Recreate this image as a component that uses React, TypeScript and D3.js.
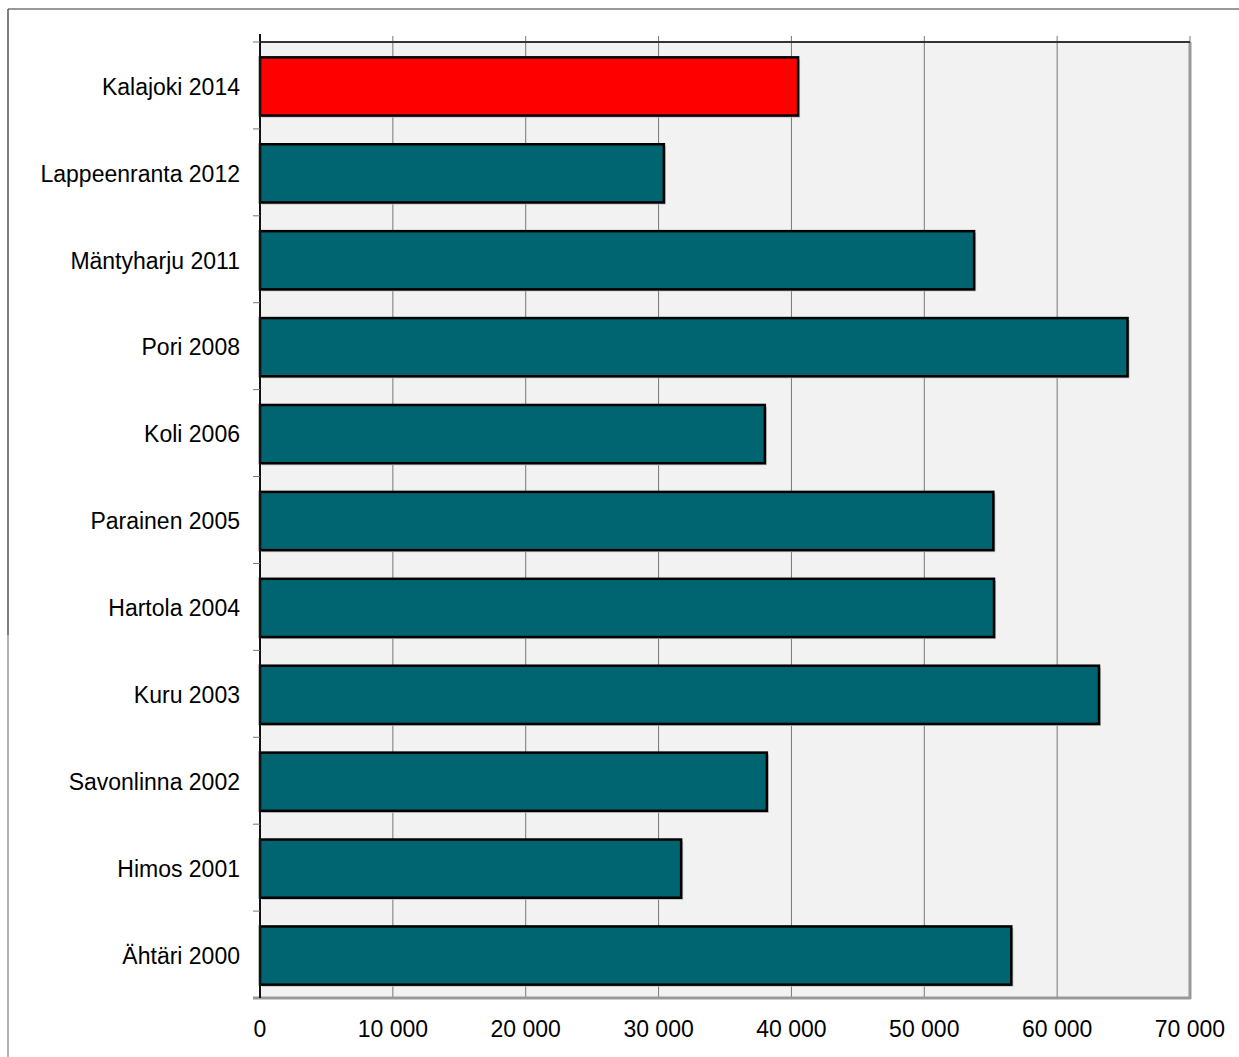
import React from "react";
import * as d3 from "d3";

const categories = [
  "Kalajoki 2014",
  "Lappeenranta 2012",
  "Mäntyharju 2011",
  "Pori 2008",
  "Koli 2006",
  "Parainen 2005",
  "Hartola 2004",
  "Kuru 2003",
  "Savonlinna 2002",
  "Himos 2001",
  "Ähtäri 2000",
];
const values = [40500, 30400, 53750, 65300, 38000, 55200, 55250, 63150, 38150, 31700, 56550];
const highlight = ["Kalajoki 2014"];
const ticks = [0, 10000, 20000, 30000, 40000, 50000, 60000, 70000];

const W = 1239;
const H = 1057;
const left = 260;
const right = 1190;
const top = 42;
const bottom = 998;

export default function App() {
  const x = d3.scaleLinear().domain([0, 70000]).range([left, right]);
  const y = d3.scaleBand().domain(categories).range([top + 1, bottom + 1]).paddingInner(0.33).paddingOuter(0.165);
  const band = (bottom - top) / categories.length;
  const fmt = (v: number) => (v === 0 ? "0" : d3.format(",")(v).replace(/,/g, " "));
  const font = "'Liberation Sans', Arial, sans-serif";
  return (
    <svg width={W} height={H} style={{ position: "absolute", left: 0, top: 0 }}>
      <rect x={0} y={0} width={W} height={H} fill="#fff" />
      {/* outer frame */}
      <line x1={8} x2={W} y1={9} y2={9} stroke="#777" strokeWidth={1.5} />
      <line x1={8} x2={8} y1={9} y2={635} stroke="#555" strokeWidth={1.5} />
      <line x1={8} x2={8} y1={635} y2={H} stroke="#999" strokeWidth={1.5} />
      {/* plot bg */}
      <rect x={left} y={top} width={right - left} height={bottom - top} fill="#f2f2f2" />
      {/* gridlines */}
      {ticks.slice(1, -1).map((t) => (
        <line key={t} x1={x(t)} x2={x(t)} y1={top - 6} y2={bottom} stroke="#777" strokeWidth={1} />
      ))}
      <line x1={right} x2={right} y1={top - 6} y2={top} stroke="#777" strokeWidth={1} />
      <line x1={right} x2={right} y1={top} y2={bottom + 1} stroke="#999" strokeWidth={3} />
      <line x1={left - 7} x2={right + 1} y1={bottom} y2={bottom} stroke="#999" strokeWidth={3} />
      <line x1={left} x2={right} y1={top} y2={top} stroke="#333" strokeWidth={2} />
      {/* bars */}
      {categories.map((c, i) => {
        const y0 = y(c)!;
        return (
          <g key={c}>
            <rect x={x(0) + 2} y={y0 + 2} width={x(values[i]) - x(0)} height={y.bandwidth()} fill="#bbb" />
            <rect
              x={x(0)}
              y={y0}
              width={x(values[i]) - x(0)}
              height={y.bandwidth()}
              fill={highlight.includes(c) ? "#ff0000" : "#006570"}
              stroke="#000"
              strokeWidth={2.5}
            />
          </g>
        );
      })}
      {/* left axis */}
      <line x1={left} x2={left} y1={top - 8} y2={bottom} stroke="#111" strokeWidth={2} />
      {d3.range(categories.length).map((i) => (
        <line key={i} x1={left - 7} x2={left} y1={top + i * band} y2={top + i * band} stroke="#777" strokeWidth={1} />
      ))}
      {categories.map((c) => (
        <text
          key={c}
          x={240}
          y={y(c)! + y.bandwidth() / 2}
          dy="0.36em"
          textAnchor="end"
          fontFamily={font}
          fontSize={23}
          fill="#000"
        >
          {c}
        </text>
      ))}
      {ticks.map((t) => (
        <text key={t} x={x(t)} y={1037} textAnchor="middle" fontFamily={font} fontSize={23} fill="#000">
          {fmt(t)}
        </text>
      ))}
    </svg>
  );
}
